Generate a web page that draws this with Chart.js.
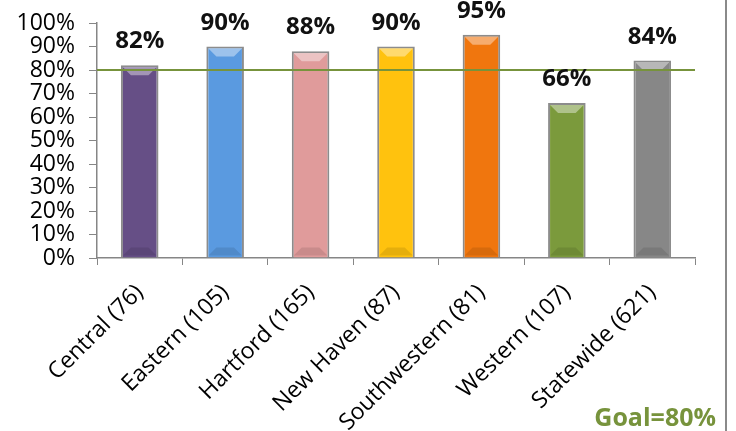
<!DOCTYPE html>
<html>
<head>
<meta charset="utf-8">
<script src="https://cdn.jsdelivr.net/npm/chart.js@4.4.0/dist/chart.umd.min.js"></script>
<style>
  body { margin: 0; background: #fff; }
  #wrap { width: 736px; height: 431px; }
</style>
</head>
<body>
<div id="wrap"><canvas id="chart" width="736" height="431"></canvas></div>
<script>
const regions = ['Central (76)', 'Eastern (105)', 'Hartford (165)', 'New Haven (87)', 'Southwestern (81)', 'Western (107)', 'Statewide (621)'];
const rates = [82, 90, 88, 90, 95, 66, 84];
const barColors = ['#664F86', '#5A9AE0', '#E09B9B', '#FFC20E', '#F0760E', '#7B9A3C', '#878787'];
const goal = 80;
const goalLabel = 'Goal=80%';

const FONT = "'Open Sans', sans-serif";
const GREEN = '#77933C';
const AXIS = '#868686';

// lighter bevel on top of each bar, darker at its foot
const bevel = {
  id: 'bevel',
  afterDatasetsDraw(chart) {
    const ctx = chart.ctx;
    chart.getDatasetMeta(0).data.forEach(bar => {
      const { x, y, base, width } = bar.getProps(['x', 'y', 'base', 'width'], true);
      const l = x - width / 2 + 2, r = x + width / 2 - 2;
      ctx.save();
      ctx.fillStyle = 'rgba(255,255,255,0.4)';
      ctx.beginPath();
      ctx.moveTo(l, y + 2); ctx.lineTo(r, y + 2);
      ctx.lineTo(r - 8, y + 10); ctx.lineTo(l + 8, y + 10);
      ctx.closePath(); ctx.fill();
      ctx.fillStyle = 'rgba(0,0,0,0.1)';
      ctx.beginPath();
      ctx.moveTo(l, base - 2); ctx.lineTo(r, base - 2);
      ctx.lineTo(r - 8, base - 10); ctx.lineTo(l + 8, base - 10);
      ctx.closePath(); ctx.fill();
      ctx.restore();
    });
  }
};

// goal line across the plot and the value above each bar
const annotations = {
  id: 'annotations',
  afterDatasetsDraw(chart) {
    const ctx = chart.ctx;
    const area = chart.chartArea;
    const yy = chart.scales.y.getPixelForValue(goal);
    ctx.save();
    ctx.strokeStyle = GREEN;
    ctx.lineWidth = 2;
    ctx.beginPath();
    ctx.moveTo(area.left, yy);
    ctx.lineTo(area.right, yy);
    ctx.stroke();

    ctx.fillStyle = '#111';
    ctx.font = 'bold 24px ' + FONT;
    ctx.textAlign = 'center';
    ctx.textBaseline = 'alphabetic';
    chart.getDatasetMeta(0).data.forEach((bar, i) => {
      ctx.fillText(rates[i] + '%', bar.x, bar.y - 17);
    });
    ctx.restore();
  },
  afterDraw(chart) {
    const ctx = chart.ctx;
    ctx.save();
    ctx.strokeStyle = '#8a8a8a';
    ctx.lineWidth = 2;
    ctx.beginPath();
    ctx.moveTo(726, 0);
    ctx.lineTo(726, chart.height);
    ctx.stroke();
    ctx.fillStyle = GREEN;
    ctx.font = 'bold 25px ' + FONT;
    ctx.textAlign = 'right';
    ctx.fillText(goalLabel, 716, 426);
    ctx.restore();
  }
};

new Chart(document.getElementById('chart'), {
  type: 'bar',
  data: {
    labels: regions,
    datasets: [{
      data: rates,
      backgroundColor: barColors,
      borderColor: '#8c8c8c',
      borderWidth: 2,
      barPercentage: 1,
      categoryPercentage: 0.44
    }]
  },
  options: {
    responsive: false,
    animation: false,
    layout: { padding: { top: 23, right: 41, left: 0, bottom: 0 } },
    plugins: {
      legend: { display: false },
      tooltip: { enabled: false }
    },
    scales: {
      x: {
        grid: { drawOnChartArea: false, tickLength: 7, color: AXIS, offset: true },
        border: { color: AXIS, width: 1.5 },
        ticks: { minRotation: 45, maxRotation: 45, color: '#000', padding: 14, font: { family: FONT, size: 23 } },
        afterFit(scale) { scale.height = 173; }
      },
      y: {
        min: 0,
        max: 100,
        grid: { drawOnChartArea: false, tickLength: 8, color: AXIS },
        border: { color: AXIS, width: 1.5 },
        ticks: {
          stepSize: 10,
          autoSkip: false,
          color: '#000',
          padding: 14,
          font: { family: FONT, size: 23 },
          callback: v => v + '%'
        },
        // fixed axis width, and let the top label overhang the plot
        afterFit(scale) {
          scale.width = 97;
          scale.paddingTop = 0;
          scale.paddingBottom = 0;
        }
      }
    }
  },
  plugins: [bevel, annotations]
});
</script>
</body>
</html>
